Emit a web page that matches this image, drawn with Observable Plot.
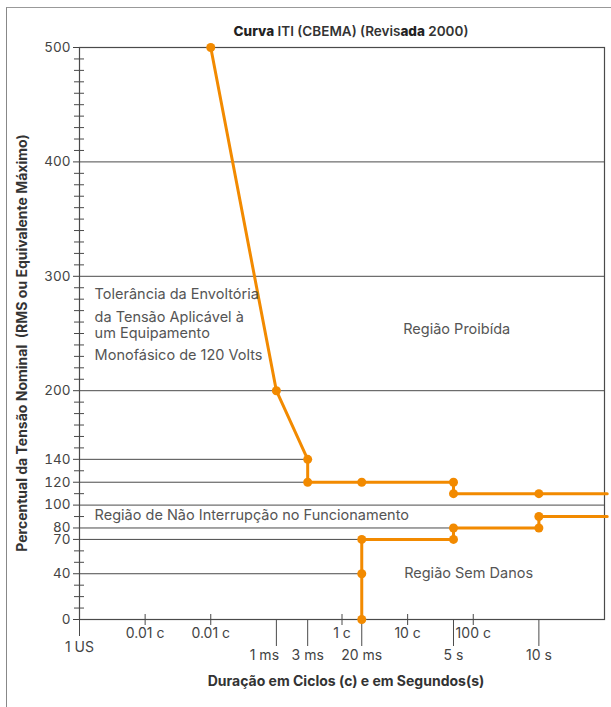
<!DOCTYPE html>
<html>
<head>
<meta charset="utf-8">
<script src="https://cdn.jsdelivr.net/npm/d3@7"></script>
<script src="https://cdn.jsdelivr.net/npm/@observablehq/plot@0.6"></script>
<style>
  html, body { margin: 0; padding: 0; background: #fff; }
  #wrap { position: relative; width: 611px; height: 707px; overflow: hidden; font-family: Inter, "Noto Sans", sans-serif; }
  #outer { position: absolute; left: 6px; top: 7px; right: -10px; bottom: -10px; border-left: 1px solid #888; border-top: 1.5px solid #999; }
  #title { position: absolute; left: 0; width: 702px; top: 23px; text-align: center; font-size: 13.5px; font-weight: 600; color: #333; }
  #title b { font-weight: 800; color: #222; }
  #ytitle { position: absolute; left: 22px; top: 343px; width: 600px; margin-left: -300px; text-align: center; transform: translateY(-50%) rotate(-90deg); font-size: 14px; font-weight: 700; color: #333; white-space: pre; line-height: 16px; }
  svg { position: absolute; left: 0; top: 0; }
</style>
</head>
<body>
<div id="wrap">
  <div id="outer"></div>
  <div id="title"><b>Curva</b> ITI (CBEMA) (Revis<b>ada</b> 2000)</div>
  <div id="ytitle"></div>
</div>
<script>
// ---- data ----
const yMajorTicks = [0, 40, 70, 80, 100, 120, 140, 200, 300, 400, 500];
const yMinorTicks = [10, 20, 30, 50, 60, 90, 110, 130, 150, 160, 170, 180, 190,
  210, 220, 230, 240, 250, 260, 270, 280, 290, 310, 320, 330, 340, 350, 360, 370, 380, 390,
  410, 420, 430, 440, 450, 460, 470, 480, 490];

// x positions in seconds (log scale)
const cycleTickValues = [1e-5, 1e-4, 1e-2, 1e-1, 1];
const cycleTickLabels = ["0.01 c", "0.01 c", "1 c", "10 c", "100 c"];
const timeTickValues = [3e-3, 2e-2, 0.5, 10];
const timeTickLabels = ["3 ms", "20 ms", "5 s", "10 s"];
const msTickValue = [1e-3];
const msTickLabel = ["1 ms"];
const usTickValue = [1e-6];
const usTickLabel = ["1 US"];

// gridlines: value and where they end (seconds)
const gridValues = [400, 300, 200, 140, 120, 100, 80, 70, 40];
const gridEnds   = [1e2, 1e2, 1e2, 3e-3, 3e-3, 1e2, 0.5, 2e-2, 2e-2];

// upper (prohibited) boundary
const upperX = [1e-4, 1e-3, 3e-3, 3e-3, 2e-2, 0.5, 0.5, 10, 1.1e2];
const upperY = [500, 200, 140, 120, 120, 120, 110, 110, 110];
const upperDot = [1, 1, 1, 1, 1, 1, 1, 1, 0];
// lower (no damage) boundary
const lowerX = [2e-2, 2e-2, 2e-2, 0.5, 0.5, 10, 10, 1.1e2];
const lowerY = [0, 40, 70, 70, 80, 80, 90, 90];
const lowerDot = [1, 1, 1, 1, 1, 1, 1, 0];

const noteTexts = ["Tolerância da Envoltória", "da Tensão Aplicável à", "um Equipamento", "Monofásico de 120 Volts",
  "Região de Não Interrupção no Funcionamento"];
const noteX = [1.7e-6, 1.7e-6, 1.7e-6, 1.7e-6, 1.7e-6];
const noteY = [284, 264, 250, 231, 91];

const regionTexts = ["Região Proibída", "Região Sem Danos"];
const regionX = [0.56, 0.85];
const regionY = [254, 40];

const yTitle = "Percentual da Tensão Nominal  (RMS ou Equivalente Máximo)";
const xTitle = "Duração em Ciclos (c) e em Segundos(s)";

// ---- tables ----
const grid = gridValues.map((v, i) => ({v, end: gridEnds[i]}));
const upper = upperX.map((x, i) => ({x, y: upperY[i], dot: upperDot[i]}));
const lower = lowerX.map((x, i) => ({x, y: lowerY[i], dot: lowerDot[i]}));
const notes = noteTexts.map((t, i) => ({t, x: noteX[i], y: noteY[i]}));
const regions = regionTexts.map((t, i) => ({t, x: regionX[i], y: regionY[i]}));
const timeLabels = timeTickValues.map((x, i) => ({x, t: timeTickLabels[i]}));
const msLabels = msTickValue.map((x, i) => ({x, t: msTickLabel[i]}));
const usLabels = usTickValue.map((x, i) => ({x, t: usTickLabel[i]}));
const cycleLabels = cycleTickValues.map((x, i) => ({x, t: cycleTickLabels[i]}));

const orange = "#F28A00";
const gray = "#4a4a4a";
const textGray = "#555";
const tickText = "#444";

document.getElementById("ytitle").textContent = yTitle;

const chart = Plot.plot({
  width: 611,
  height: 707,
  marginTop: 47,
  marginBottom: 88,
  marginLeft: 79,
  marginRight: 7,
  style: {fontFamily: "Inter, 'Noto Sans', sans-serif", background: "transparent", overflow: "visible"},
  x: {type: "log", domain: [1e-6, 1e2], axis: null},
  y: {domain: [0, 500], axis: null},
  marks: [
    Plot.ruleY(grid, {y: "v", x1: 1e-6, x2: "end", stroke: gray, strokeWidth: 1}),
    Plot.frame({stroke: gray, strokeWidth: 1.2}),
    // y axis
    Plot.axisY(yMajorTicks, {tickSize: 6, tickPadding: 3, fontSize: 13.5, color: tickText, label: null, tickFormat: d => String(d)}),
    Plot.axisY(yMinorTicks, {tickSize: 10, dx: 5, stroke: gray, tickFormat: () => "", label: null}),
    // x axis ticks
    Plot.axisX(cycleTickValues, {tickSize: 11, dy: -5, stroke: gray, tickFormat: () => "", label: null}),
    Plot.axisX(timeTickValues, {tickSize: 27, stroke: gray, tickFormat: () => "", label: null}),
    Plot.axisX(msTickValue, {tickSize: 27, stroke: gray, tickFormat: () => "", label: null}),
    Plot.axisX(usTickValue, {tickSize: 17, stroke: gray, tickFormat: () => "", label: null}),
    // x axis labels
    Plot.text(cycleLabels, {x: "x", text: "t", frameAnchor: "bottom", lineAnchor: "top", dy: 9, fontSize: 14, fill: tickText}),
    Plot.text(timeLabels, {x: "x", text: "t", frameAnchor: "bottom", lineAnchor: "top", dy: 31, fontSize: 14, fill: tickText}),
    Plot.text(msLabels, {x: "x", text: "t", frameAnchor: "bottom", lineAnchor: "top", dy: 31, dx: -12, fontSize: 14, fill: tickText}),
    Plot.text(usLabels, {x: "x", text: "t", frameAnchor: "bottom", lineAnchor: "top", dy: 23, fontSize: 14, fill: tickText}),
    // curves
    Plot.line(upper, {x: "x", y: "y", stroke: orange, strokeWidth: 3}),
    Plot.line(lower, {x: "x", y: "y", stroke: orange, strokeWidth: 3}),
    Plot.dot(upper.filter(d => d.dot), {x: "x", y: "y", r: 4.5, fill: orange}),
    Plot.dot(lower.filter(d => d.dot), {x: "x", y: "y", r: 4.5, fill: orange}),
    // annotations
    Plot.text(notes, {x: "x", y: "y", text: "t", textAnchor: "start", fontSize: 14.5, fill: textGray}),
    Plot.text(regions, {x: "x", y: "y", text: "t", textAnchor: "middle", fontSize: 14.5, fill: textGray}),
    // x title
    Plot.text([xTitle], {text: d => d, frameAnchor: "bottom", dx: 4, dy: 66, fontSize: 14, fontWeight: 700, fill: "#333"})
  ]
});
document.getElementById("wrap").insertBefore(chart, document.getElementById("title"));
</script>
</body>
</html>
